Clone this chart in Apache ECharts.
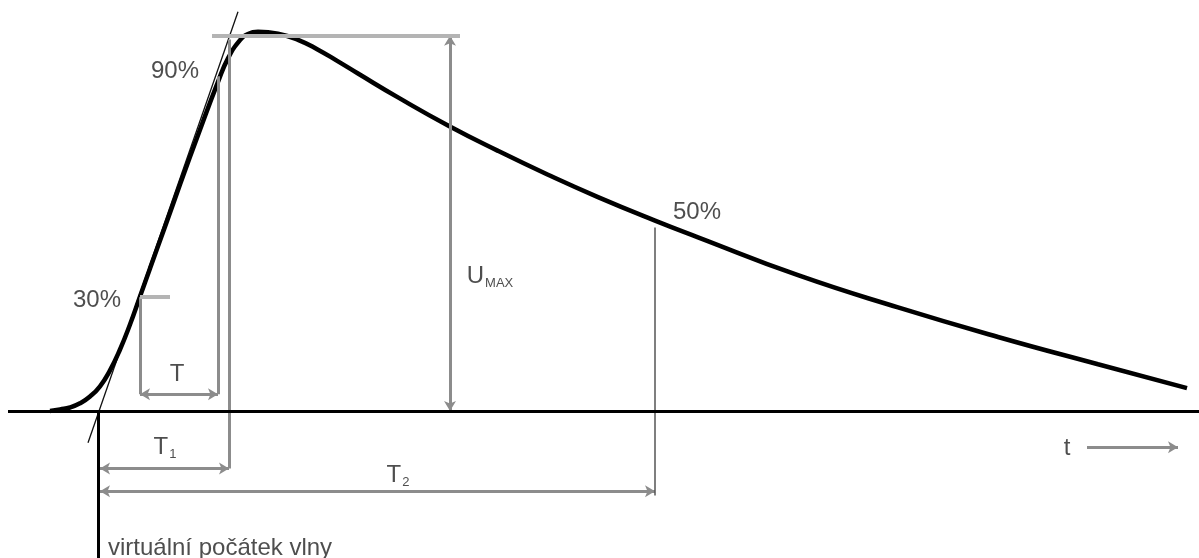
<!DOCTYPE html>
<html>
<head>
<meta charset="utf-8">
<script src="https://cdn.jsdelivr.net/npm/echarts@6/dist/echarts.min.js"></script>
<style>
html, body { margin: 0; padding: 0; background: #fff; }
#chart { width: 1199px; height: 558px; }
</style>
</head>
<body>
<div id="chart"></div>
<script>
// impulsní vlna - cas (lib. jednotky, 0 = virtualni pocatek) a napeti v % Umax
var waveT = [-4.8, -3.8, -2.8, -1.8, -0.8, 0.2, 1.2, 2.2, 3.2, 4.2, 5.2, 6.7, 8.2, 10.2, 12.0, 13.0, 14.2, 15.0, 16.0,
    18, 20, 22, 24, 26, 30, 35, 40, 45, 50, 55.7, 60, 70, 80, 90, 100, 108.9]
var waveU = [0, 0.4, 0.9, 2.0, 3.8, 6.5, 10.7, 16.2, 22.8, 30.2, 37.6, 48.6, 59.7, 74.2, 86.8, 93.0, 97.8, 99.4, 100,
    99.5, 97.9, 95.3, 92.2, 89.0, 82.7, 75.3, 68.6, 62.3, 56.4, 50.2, 45.8, 35.8, 27.3, 19.5, 12.3, 6.0]

// tecna celem vlny
var tangentT = [-1.0, 14.0]
var tangentU = [-8.4, 105.3]

// vyznamne casy: pocatek, 30 %, 90 %, T1, Umax, T2(50 %)
var markT = [0, 4.2, 12.0, 13.1, 35.2, 55.7]
// urovne sipek pod osou: T, T1, T2, t
var arrowU = [4.4, -15.2, -21.2, -9.6]
var levelU = [30, 90, 99, 50]

var xMin = -9.8, xMax = 110.1, yMin = -38.8, yMax = 108.4

function seg(a, b, s1, s2) {
    return [{ coord: a, symbol: s1 || "none" }, { coord: b, symbol: s2 || "none" }]
}

var chart = echarts.init(document.getElementById("chart"))

var FONT = "Liberation Sans, Arial, sans-serif"
var TXT = "#222"
var rich = {
    b: { fontSize: 24, fontFamily: FONT, color: TXT, lineHeight: 30 },
    s: { fontSize: 13, fontFamily: FONT, color: TXT, lineHeight: 30, padding: [14, 0, 0, 1] }
}

var labels = [
    { value: [7.7, 89.6], text: "{b|90%}" },
    { value: [-0.1, 29.2], text: "{b|30%}" },
    { value: [59.9, 52.4], text: "{b|50%}" },
    { value: [7.9, 9.6], text: "{b|T}" },
    { value: [6.7, -9.5], text: "{b|T}{s|1}" },
    { value: [30.0, -17.0], text: "{b|T}{s|2}" },
    { value: [39.2, 35.5], text: "{b|U}{s|MAX}" },
    { value: [96.9, -9.8], text: "{b|t}" },
    { value: [1.0, -36.2], text: "{b|virtuální počátek vlny}", left: true }
]

var option = {
    animation: false,
    grid: { left: 0, right: 0, top: 0, bottom: 0 },
    xAxis: { type: "value", min: xMin, max: xMax, show: false },
    yAxis: { type: "value", min: yMin, max: yMax, show: false },
    series: [
        {
            // sede pomocne cary (silne)
            type: "line", data: [], silent: true,
            markLine: {
                silent: true, symbolSize: [9, 10], label: { show: false },
                lineStyle: { color: "#8c8c8c", width: 3, type: "solid" },
                data: [
                    seg([markT[3], 98], [markT[3], arrowU[1]]),
                    seg([markT[2], 88.3], [markT[2], arrowU[0]]),
                    seg([markT[1], levelU[0]], [markT[1], arrowU[0]]),
                    seg([markT[4], levelU[2]], [markT[4], 0], "arrow", "arrow"),
                    seg([markT[1], arrowU[0]], [markT[2], arrowU[0]], "arrow", "arrow"),
                    seg([0.2, arrowU[1]], [markT[3], arrowU[1]], "arrow", "arrow"),
                    seg([0.2, arrowU[2]], [markT[5], arrowU[2]], "arrow", "arrow"),
                    seg([98.9, arrowU[3]], [108.0, arrowU[3]], "none", "arrow")
                ]
            }
        },
        {
            // svetle sede cary (Umax, 30 %)
            type: "line", data: [], silent: true,
            markLine: {
                silent: true, symbol: "none", label: { show: false },
                lineStyle: { color: "#b4b4b4", width: 4, type: "solid" },
                data: [
                    seg([11.4, levelU[2]], [36.2, levelU[2]]),
                    seg([markT[1], levelU[0]], [7.2, levelU[0]])
                ]
            }
        },
        {
            // tenka cara 50 %
            type: "line", data: [], silent: true,
            markLine: {
                silent: true, symbol: "none", label: { show: false },
                lineStyle: { color: "#555", width: 1.5, type: "solid" },
                data: [seg([markT[5], 48.4], [markT[5], -22.3])]
            }
        },
        {
            // osa casu a virtualni pocatek
            type: "line", data: [], silent: true,
            markLine: {
                silent: true, symbol: "none", label: { show: false },
                lineStyle: { color: "#000", width: 3, type: "solid" },
                data: [
                    seg([-9.0, 0], [xMax, 0]),
                    seg([markT[0], 0], [markT[0], yMin])
                ]
            }
        },
        {
            name: "tecna", type: "line", silent: true, symbol: "none",
            lineStyle: { color: "#111", width: 1.3 },
            data: tangentT.map(function (t, i) { return [t, tangentU[i]] })
        },
        {
            name: "vlna", type: "line", silent: true, symbol: "none", smooth: 0.5,
            lineStyle: { color: "#000", width: 4.5 },
            data: waveT.map(function (t, i) { return [t, waveU[i]] })
        },
        {
            type: "scatter", silent: true, symbolSize: 0,
            data: labels.map(function (l) {
                return {
                    value: l.value,
                    label: {
                        show: true, position: "inside", formatter: l.text, rich: rich, color: TXT,
                        align: l.left ? "left" : "center", verticalAlign: "middle"
                    }
                }
            })
        }
    ]
}

chart.setOption(option)
</script>
</body>
</html>
